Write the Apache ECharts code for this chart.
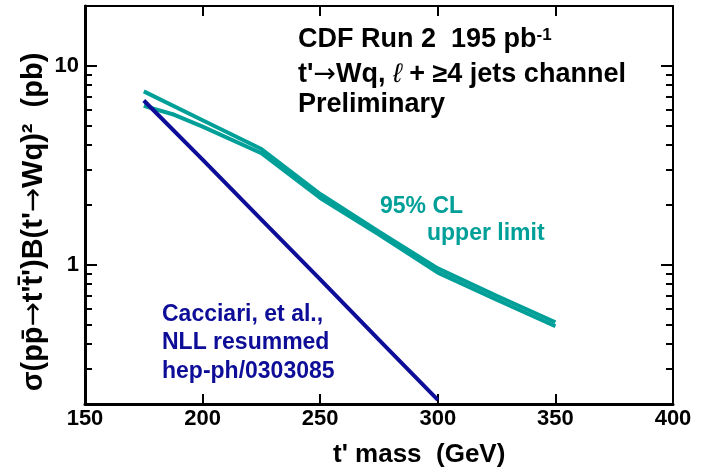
<!DOCTYPE html>
<html>
<head>
<meta charset="utf-8">
<script src="https://cdn.jsdelivr.net/npm/echarts@6/dist/echarts.min.js"></script>
<style>
html,body{margin:0;padding:0;background:#fff;}
#c{width:703px;height:475px;}
</style>
</head>
<body>
<div id="c"></div>
<script>
// ---- data ----
const massTheory = [175, 200, 225, 250, 275, 300];
const sigmaTheory = [6.7, 3.38, 1.69, 0.845, 0.42, 0.21];

const massUpper = [175, 200, 225, 250, 275, 300, 325, 350];
const limitUpper = [7.45, 5.33, 3.82, 2.27, 1.47, 0.96, 0.70, 0.515];
const massLower = [175, 188, 200, 225, 250, 275, 300, 325, 350];
const limitLower = [6.3, 5.68, 4.95, 3.64, 2.17, 1.42, 0.915, 0.668, 0.492];

const xTicks = [150, 200, 250, 300, 350, 400];
const yLabels = [1, 10];
const yMajorTicks = [1, 10];
const yMinorTicks = [0.2, 0.3, 0.4, 0.5, 0.6, 0.7, 0.8, 0.9, 2, 3, 4, 5, 6, 7, 8, 9, 20];
const yMin = 0.2, yMax = 20;

const FONT = '"Liberation Sans", Arial, Helvetica, sans-serif';
const ARROWFONT = '"DejaVu Sans", sans-serif';
const BLUE = '#0d0d98';
const TEAL = '#00a099';

function pairs(xs, ys) { return xs.map((x, i) => [x, ys[i]]); }

const chart = echarts.init(document.getElementById('c'), null, {renderer: 'canvas'});

function xAxisDef(pos, showLabel, lw) {
  return {
    type: 'value', position: pos, min: xTicks[0], max: xTicks[xTicks.length - 1], interval: 50,
    axisLine: {show: true, onZero: false, lineStyle: {color: '#000', width: lw}},
    axisTick: {show: true, inside: true, length: 10, lineStyle: {color: '#000', width: 2}},
    axisLabel: {show: showLabel, color: '#000', fontSize: 22, fontWeight: 'bold', fontFamily: FONT, margin: 4},
    splitLine: {show: false}
  };
}
// main logarithmic axes: carry the data, the frame line and the labels
function yLogAxis(pos, showLabel, lw) {
  return {
    type: 'log', logBase: 10, position: pos, min: yMin, max: yMax,
    axisLine: {show: true, onZero: false, lineStyle: {color: '#000', width: lw}},
    axisTick: {show: false},
    axisLabel: {show: showLabel, customValues: yLabels, color: '#000', fontSize: 22, fontWeight: 'bold', fontFamily: FONT, margin: 6},
    splitLine: {show: false}, minorTick: {show: false}
  };
}
// tick-only companion axes spanning the same decades (log10 units)
function yTickAxis(pos, ticks, len) {
  return {
    type: 'value', position: pos, min: Math.log10(yMin), max: Math.log10(yMax),
    axisLine: {show: false},
    axisTick: {show: true, inside: true, interval: 0, length: len, customValues: ticks.map(v => Math.log10(v)),
      lineStyle: {color: '#000', width: 2}},
    axisLabel: {show: false, interval: 0},
    splitLine: {show: false}
  };
}

function txt(x, y, text, color, size) {
  return {type: 'text', x: x, y: y, style: {
    text: text, fill: color, font: 'bold ' + size + 'px ' + FONT,
    textAlign: 'left', verticalAlign: 'middle', textVerticalAlign: 'middle'}};
}

const option = {
  animation: false,
  backgroundColor: '#fff',
  grid: {left: 85, right: 30, top: 6, bottom: 71, containLabel: false},
  xAxis: [xAxisDef('bottom', true, 3), xAxisDef('top', false, 2)],
  yAxis: [yLogAxis('left', true, 3), yLogAxis('right', false, 2),
          yTickAxis('left', yMajorTicks, 12), yTickAxis('left', yMinorTicks, 7),
          yTickAxis('right', yMajorTicks, 12), yTickAxis('right', yMinorTicks, 7)],
  series: [
    {type: 'line', name: 'theory', yAxisIndex: 0, data: pairs(massTheory, sigmaTheory), showSymbol: false,
     lineStyle: {color: BLUE, width: 4}, z: 3},
    {type: 'line', name: 'limitUpper', yAxisIndex: 0, data: pairs(massUpper, limitUpper), showSymbol: false,
     lineStyle: {color: TEAL, width: 4}, z: 2},
    {type: 'line', name: 'limitLower', yAxisIndex: 0, data: pairs(massLower, limitLower), showSymbol: false,
     lineStyle: {color: TEAL, width: 4}, z: 2}
  ],
  graphic: {elements: [
    {type: 'text', x: 298, y: 40, style: {
      text: '{m|CDF Run 2  195 pb}{s|-1}', textAlign: 'left', verticalAlign: 'middle', textVerticalAlign: 'middle',
      rich: {m: {fontSize: 27, fontWeight: 'bold', fontFamily: FONT, fill: '#000', color: '#000'},
             s: {fontSize: 17, fontWeight: 'bold', fontFamily: FONT, fill: '#000', color: '#000', verticalAlign: 'top'}}}},
    {type: 'text', x: 298, y: 74.6, style: {
      text: '{m|t\'}{a|\u2192}{m|Wq, }{l|\u2113}{m| + \u22654 jets channel}',
      textAlign: 'left', verticalAlign: 'middle', textVerticalAlign: 'middle',
      rich: {m: {fontSize: 27, fontWeight: 'bold', fontFamily: FONT, fill: '#000', color: '#000'},
             a: {fontSize: 27, fontWeight: 'normal', fontFamily: ARROWFONT, fill: '#000', color: '#000'},
             l: {fontSize: 27, fontWeight: 'normal', fontStyle: 'italic', fontFamily: FONT, fill: '#000', color: '#000'}}}},
    txt(298, 105, 'Preliminary', '#000', 27),
    txt(380, 207, '95% CL', TEAL, 23),
    txt(427, 233.6, 'upper limit', TEAL, 23),
    txt(162, 314.6, 'Cacciari, et al.,', BLUE, 23),
    txt(162, 342.9, 'NLL resummed', BLUE, 23),
    txt(162, 371.2, 'hep-ph/0303085', BLUE, 23),
    txt(333, 455, 't\' mass  (GeV)', '#000', 26),
    {type: 'text', x: 34, y: 222, rotation: Math.PI / 2, style: {
      text: '{m|\u03c3(pp\u0304}{a|\u2192}{m|t\'t\u0304\')B(t\'}{a|\u2192}{m|Wq)\u00b2  (pb)}',
      textAlign: 'center', verticalAlign: 'middle', textVerticalAlign: 'middle',
      rich: {m: {fontSize: 29, fontWeight: 'bold', fontFamily: FONT, fill: '#000', color: '#000'},
             a: {fontSize: 29, fontWeight: 'normal', fontFamily: ARROWFONT, fill: '#000', color: '#000'}}}}
  ]}
};
chart.setOption(option);
</script>
</body>
</html>
